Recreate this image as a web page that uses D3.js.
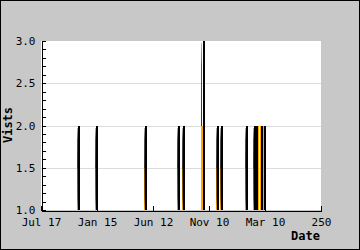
<!DOCTYPE html>
<html>
<head>
<meta charset="utf-8">
<script src="https://cdn.jsdelivr.net/npm/d3@7"></script>
<style>
  body { margin: 0; background: #c8c8c8; }
  svg { display: block; }
  text { font-family: "DejaVu Sans Mono", "Liberation Mono", monospace; }
</style>
</head>
<body>
<svg id="chart"></svg>
<script>
// day index (0..250) of every day with more than one visit
const days = [34, 50, 94, 123, 128, 145, 158, 162, 184, 191, 193, 195, 197, 200];
// black series (visits) and orange series
const visits = [2, 2, 2, 2, 2, 3, 2, 2, 2, 2, 2, 1, 2, 2];
const visitors = [1.5, 1.5, 1.5, 1.5, 1.5, 2, 1.5, 1.5, 1.5, 1.5, 2, 2, 2, 2];
const xTickValues = [0, 50, 100, 150, 200, 250];
const xTickLabels = ['Jul 17', 'Jan 15', 'Jun 12', 'Nov 10', 'Mar 10', '250'];
const yTickValues = [1.0, 1.5, 2.0, 2.5, 3.0];

const width = 360, height = 250;
const margin = {top: 41, right: 39, bottom: 40, left: 41};

const svg = d3.select('#chart')
    .attr('width', width)
    .attr('height', height)
    .attr('shape-rendering', 'crispEdges');

// frame
svg.append('rect')
    .attr('x', 0.5).attr('y', 0.5)
    .attr('width', width - 1.5).attr('height', height - 1.5)
    .attr('fill', '#c8c8c8')
    .attr('stroke', '#000');

const x = d3.scaleLinear()
    .domain([0, 250])
    .range([margin.left, width - margin.right]);

const y = d3.scaleLinear()
    .domain([1, 3])
    .range([height - margin.bottom, margin.top]);

const px = d => Math.round(x(d));

// plot background
svg.append('rect')
    .attr('x', x(0)).attr('y', y(3))
    .attr('width', x(250) - x(0)).attr('height', y(1) - y(3))
    .attr('fill', '#fff');

// grid
svg.append('g')
  .selectAll('line')
  .data([1.5, 2.0, 2.5])
  .join('line')
    .attr('x1', x(0)).attr('x2', x(250))
    .attr('y1', d => Math.round(y(d)) + 0.5)
    .attr('y2', d => Math.round(y(d)) + 0.5)
    .attr('stroke', '#dcdcdc');

const defs = svg.append('defs');
const grad = defs.append('linearGradient')
    .attr('id', 'fade')
    .attr('x1', 0).attr('x2', 0).attr('y1', 0).attr('y2', 1);
grad.append('stop').attr('offset', 0).attr('stop-color', '#6e4a00');
grad.append('stop').attr('offset', 0.7).attr('stop-color', '#9a6600');
grad.append('stop').attr('offset', 1).attr('stop-color', '#ffa500');

const shadeGrad = defs.append('linearGradient')
    .attr('id', 'shade')
    .attr('x1', 0).attr('x2', 0).attr('y1', 0).attr('y2', 1);
shadeGrad.append('stop').attr('offset', 0).attr('stop-color', '#bbb');
shadeGrad.append('stop').attr('offset', 0.3).attr('stop-color', '#555');
shadeGrad.append('stop').attr('offset', 1).attr('stop-color', '#333');

const spikes = days.map((d, i) => ({day: d, v: visits[i], u: visitors[i]}));

const g = svg.append('g');

// grey shade of the black line
g.selectAll('.shade')
  .data(spikes.filter(d => d.v > d.u))
  .join('rect')
    .attr('class', 'shade')
    .attr('x', d => px(d.day) - 2)
    .attr('width', 1)
    .attr('y', d => y(d.v) + 2)
    .attr('height', d => y(d.u) - y(d.v) - 2)
    .attr('fill', 'url(#shade)');

// orange series
g.selectAll('.vis')
  .data(spikes)
  .join('rect')
    .attr('class', 'vis')
    .attr('x', d => px(d.day) - (d.u >= 2 ? 2 : 2))
    .attr('width', d => d.u >= 2 ? 2 : 1)
    .attr('y', d => y(d.u))
    .attr('height', d => y(1) - y(d.u))
    .attr('fill', d => d.u >= 2 ? '#ffa500' : 'url(#fade)');

// black series
g.selectAll('.visit')
  .data(spikes.filter(d => d.v > 1))
  .join('rect')
    .attr('class', 'visit')
    .attr('x', d => px(d.day) - 1 + (d.u >= 2 && d.v > d.u ? 1 : 0))
    .attr('width', 2)
    .attr('y', d => y(d.v))
    .attr('height', d => y(1) - y(d.v))
    .attr('fill', '#000');

// y axis
const yAxis = d3.axisLeft(y)
    .tickValues(d3.range(10, 31).map(v => v / 10))
    .tickSize(-4)
    .tickFormat(d => yTickValues.some(t => Math.abs(t - d) < 1e-9) ? d3.format('.1f')(d) : '')
    .tickPadding(6)
    .tickSizeOuter(0);

svg.append('g')
    .attr('transform', `translate(${x(0) + 0.5},0)`)
    .call(yAxis)
    .call(g => g.selectAll('text').attr('font-size', 11).attr('fill', '#000')
        .attr('font-family', '"DejaVu Sans Mono", monospace'))
    .call(g => g.selectAll('line, path').attr('stroke', '#000'));

// x axis
const xAxis = d3.axisBottom(x)
    .tickValues(xTickValues)
    .tickSize(-5)
    .tickPadding(8)
    .tickSizeOuter(0)
    .tickFormat((d, i) => xTickLabels[i]);

svg.append('g')
    .attr('transform', `translate(0,${y(1) + 0.5})`)
    .call(xAxis)
    .call(g => g.selectAll('text').attr('font-size', 11).attr('fill', '#000')
        .attr('font-family', '"DejaVu Sans Mono", monospace'))
    .call(g => g.selectAll('line, path').attr('stroke', '#000'));

// axis titles
svg.append('text')
    .attr('x', 320)
    .attr('y', 240)
    .attr('text-anchor', 'end')
    .attr('font-size', 12)
    .attr('font-weight', 'bold')
    .text('Date');

svg.append('text')
    .attr('transform', 'translate(12,125) rotate(-90)')
    .attr('text-anchor', 'middle')
    .attr('font-size', 12)
    .attr('font-weight', 'bold')
    .text('Vists');
</script>
</body>
</html>
